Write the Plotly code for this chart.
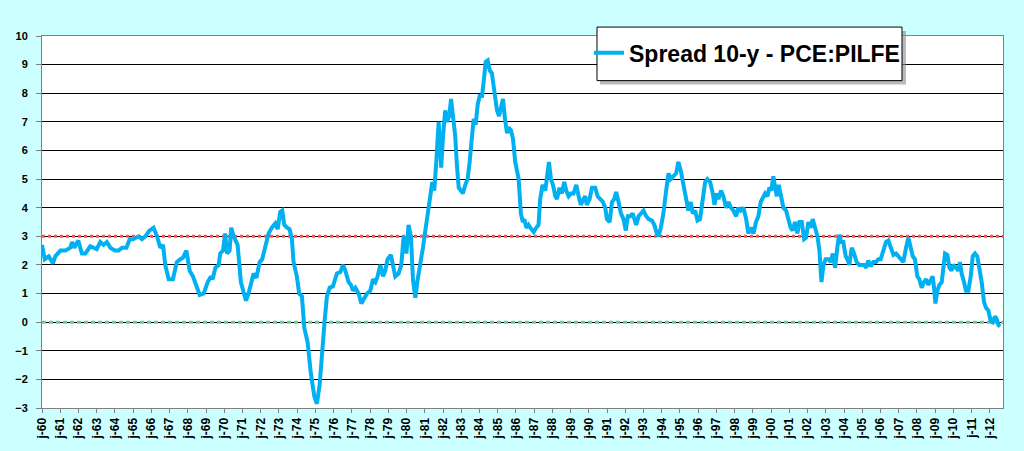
import plotly.graph_objects as go

# ---- data (decimal year, spread in %) ----
dates_60s = [1960.00, 1960.15, 1960.37, 1960.60, 1960.73, 1961.01, 1961.28, 1961.55, 1961.65, 1961.77,
             1961.99, 1962.19, 1962.38, 1962.65, 1962.83, 1963.00, 1963.20, 1963.38, 1963.56, 1963.75,
             1964.00, 1964.20, 1964.39, 1964.63, 1964.81, 1964.99, 1965.30, 1965.48, 1965.67, 1965.89,
             1966.12, 1966.31, 1966.49, 1966.64, 1966.76, 1966.95, 1967.18, 1967.40, 1967.59, 1967.73,
             1967.92, 1968.10, 1968.28, 1968.46, 1968.65, 1968.87, 1969.09, 1969.27, 1969.36, 1969.51,
             1969.69, 1969.78, 1969.93]
spread_60s = [2.7, 2.2, 2.3, 2.05, 2.3, 2.5, 2.5, 2.6, 2.8, 2.6,
              2.85, 2.4, 2.4, 2.65, 2.6, 2.55, 2.8, 2.7, 2.8, 2.6,
              2.5, 2.5, 2.6, 2.6, 2.9, 2.9, 3.0, 2.9, 3.0, 3.2,
              3.3, 3.0, 2.6, 2.7, 2.0, 1.5, 1.5, 2.1, 2.2, 2.25,
              2.5, 1.8, 1.6, 1.3, 0.95, 1.0, 1.4, 1.6, 1.5, 1.9,
              2.0, 2.4, 2.5]

dates_70s = [1970.05, 1970.15, 1970.29, 1970.38, 1970.51, 1970.73, 1970.91, 1971.06, 1971.19, 1971.33,
             1971.46, 1971.61, 1971.76, 1971.94, 1972.08, 1972.25, 1972.43, 1972.61, 1972.80, 1972.93,
             1973.07, 1973.18, 1973.29, 1973.44, 1973.58, 1973.71, 1973.80, 1973.98, 1974.11, 1974.26,
             1974.39, 1974.57, 1974.75, 1974.94, 1975.08, 1975.23, 1975.36, 1975.50, 1975.63, 1975.78,
             1975.96, 1976.18, 1976.37, 1976.51, 1976.64, 1976.82, 1976.95, 1977.06, 1977.19, 1977.37,
             1977.52, 1977.65, 1977.83, 1978.01, 1978.16, 1978.29, 1978.41, 1978.56, 1978.71, 1978.83,
             1978.96, 1979.14, 1979.25, 1979.38, 1979.56, 1979.71, 1979.84, 1979.99]
spread_70s = [3.1, 2.4, 2.5, 3.3, 3.0, 2.7, 1.4, 1.0, 0.75, 1.0,
              1.4, 1.7, 1.55, 2.1, 2.2, 2.7, 3.1, 3.3, 3.45, 3.25,
              3.85, 3.9, 3.4, 3.3, 3.25, 2.9, 2.1, 1.6, 1.0, 0.9,
              -0.2, -0.7, -1.8, -2.6, -2.85, -2.2, -1.0, 0.0, 0.9, 1.2,
              1.25, 1.7, 1.75, 2.0, 1.8, 1.4, 1.3, 1.1, 1.2, 1.0,
              0.65, 0.8, 1.0, 1.1, 1.5, 1.4, 1.6, 2.0, 1.6, 1.8,
              2.2, 2.35, 2.0, 1.6, 1.7, 2.0, 3.0, 2.4]

dates_80s = [1980.11, 1980.24, 1980.35, 1980.48, 1980.61, 1980.75, 1980.90, 1981.03, 1981.16, 1981.30,
             1981.41, 1981.52, 1981.63, 1981.76, 1981.85, 1981.90, 1982.00, 1982.12, 1982.22, 1982.34,
             1982.44, 1982.54, 1982.67, 1982.76, 1982.86, 1982.98, 1983.09, 1983.22, 1983.35, 1983.46,
             1983.59, 1983.68, 1983.79, 1983.90, 1984.01, 1984.14, 1984.23, 1984.34, 1984.45, 1984.56,
             1984.68, 1984.81, 1984.96, 1985.07, 1985.18, 1985.29, 1985.40, 1985.51, 1985.60, 1985.73,
             1985.84, 1985.96, 1986.15, 1986.27, 1986.38, 1986.46, 1986.57, 1986.69, 1986.79, 1986.97,
             1987.12, 1987.24, 1987.33, 1987.46, 1987.61, 1987.70, 1987.81, 1987.92, 1988.03, 1988.16,
             1988.25, 1988.39, 1988.52, 1988.65, 1988.76, 1988.89, 1989.02, 1989.16, 1989.31, 1989.44,
             1989.56, 1989.71, 1989.80, 1989.89]
spread_80s = [3.4, 3.0, 1.5, 0.85, 1.5, 2.0, 2.6, 3.2, 3.9, 4.4,
              4.9, 4.6, 5.6, 7.0, 6.0, 5.4, 6.5, 7.4, 7.0, 7.2,
              7.8, 7.3, 6.5, 5.5, 4.7, 4.6, 4.5, 4.8, 5.0, 5.6,
              6.5, 7.1, 6.9, 7.6, 7.9, 7.9, 8.4, 9.1, 9.15, 8.8,
              8.7, 8.0, 7.4, 7.2, 7.5, 7.8, 7.1, 6.6, 6.8, 6.7,
              6.4, 5.6, 5.0, 3.8, 3.5, 3.6, 3.3, 3.4, 3.3, 3.15,
              3.3, 3.4, 4.3, 4.8, 4.6, 5.0, 5.6, 5.0, 4.8, 4.4,
              4.3, 4.7, 4.5, 4.9, 4.6, 4.4, 4.5, 4.5, 4.8, 4.4,
              4.1, 4.3, 4.4, 4.1]

dates_90s = [1990.04, 1990.17, 1990.35, 1990.48, 1990.63, 1990.77, 1990.90, 1990.99, 1991.14, 1991.27,
             1991.39, 1991.50, 1991.63, 1991.76, 1991.90, 1992.03, 1992.14, 1992.27, 1992.40, 1992.51,
             1992.60, 1992.73, 1992.86, 1993.00, 1993.15, 1993.28, 1993.46, 1993.59, 1993.73, 1993.82,
             1993.95, 1994.09, 1994.24, 1994.37, 1994.49, 1994.64, 1994.79, 1994.91, 1995.04, 1995.19,
             1995.33, 1995.46, 1995.59, 1995.70, 1995.83, 1995.96, 1996.10, 1996.25, 1996.38, 1996.50,
             1996.65, 1996.80, 1996.89, 1997.02, 1997.11, 1997.25, 1997.38, 1997.53, 1997.66, 1997.80,
             1997.93, 1998.08, 1998.20, 1998.33, 1998.48, 1998.63, 1998.75, 1998.88, 1999.03, 1999.17,
             1999.30, 1999.43, 1999.58, 1999.67, 1999.80, 1999.90]
spread_90s = [4.3, 4.7, 4.7, 4.4, 4.3, 4.2, 4.0, 3.6, 3.5, 4.2,
              4.3, 4.55, 4.2, 3.8, 3.6, 3.2, 3.7, 3.7, 3.8, 3.5,
              3.4, 3.7, 3.8, 3.9, 3.7, 3.6, 3.55, 3.4, 3.1, 3.0,
              3.3, 3.8, 4.6, 5.2, 5.0, 5.1, 5.2, 5.6, 5.3, 4.8,
              4.4, 3.9, 4.2, 3.8, 3.9, 3.55, 3.6, 4.4, 4.9, 5.0,
              4.9, 4.5, 4.1, 4.5, 4.3, 4.6, 4.4, 4.0, 4.2, 4.0,
              3.9, 3.7, 4.0, 3.9, 4.0, 3.6, 3.1, 3.3, 3.1, 3.5,
              3.7, 4.2, 4.4, 4.5, 4.4, 4.7]

dates_00s = [2000.01, 2000.12, 2000.22, 2000.31, 2000.42, 2000.53, 2000.67, 2000.82, 2000.95, 2001.07,
             2001.18, 2001.31, 2001.44, 2001.55, 2001.68, 2001.81, 2001.92, 2002.04, 2002.17, 2002.28,
             2002.41, 2002.54, 2002.65, 2002.76, 2002.87, 2002.99, 2003.14, 2003.27, 2003.38, 2003.51,
             2003.63, 2003.73, 2003.85, 2003.96, 2004.09, 2004.18, 2004.29, 2004.42, 2004.55, 2004.69,
             2004.84, 2004.97, 2005.10, 2005.21, 2005.33, 2005.46, 2005.61, 2005.75, 2005.88, 2006.01,
             2006.16, 2006.30, 2006.43, 2006.56, 2006.71, 2006.85, 2006.98, 2007.11, 2007.25, 2007.40,
             2007.53, 2007.66, 2007.77, 2007.89, 2008.02, 2008.13, 2008.26, 2008.39, 2008.50, 2008.63,
             2008.75, 2008.86, 2008.94, 2009.01, 2009.12, 2009.23, 2009.36, 2009.45, 2009.54, 2009.67,
             2009.78, 2009.90]
spread_00s = [4.6, 5.1, 4.7, 4.4, 4.8, 4.5, 4.0, 3.9, 3.5, 3.3,
              3.2, 3.5, 3.1, 3.5, 3.5, 2.9, 2.95, 3.5, 3.3, 3.6,
              3.3, 3.0, 2.5, 1.4, 2.0, 2.2, 2.2, 2.1, 2.4, 1.9,
              2.6, 3.05, 2.8, 2.8, 2.3, 2.2, 2.0, 2.6, 2.4, 2.1,
              2.0, 2.0, 2.0, 1.9, 2.15, 1.95, 2.1, 2.1, 2.2, 2.2,
              2.5, 2.8, 2.85, 2.6, 2.35, 2.4, 2.3, 2.2, 2.1, 2.6,
              2.95, 2.6, 2.3, 2.2, 1.6, 1.5, 1.2, 1.4, 1.5, 1.3,
              1.5, 1.6, 1.2, 0.65, 1.1, 1.3, 1.4, 2.0, 2.4, 2.35,
              1.9, 1.8]

dates_10s = [2010.00, 2010.14, 2010.27, 2010.36, 2010.45, 2010.58, 2010.69, 2010.82, 2010.95, 2011.06,
             2011.18, 2011.31, 2011.42, 2011.55, 2011.68, 2011.79, 2011.92, 2012.04, 2012.15, 2012.28,
             2012.38, 2012.47, 2012.56]
spread_10s = [2.0, 1.9, 1.8, 2.1, 1.7, 1.4, 1.1, 1.1, 1.6, 2.3,
              2.4, 2.3, 1.9, 1.4, 0.7, 0.5, 0.4, 0.05, 0.0, 0.2,
              0.1, -0.1, -0.15]

tick_years = list(range(1960, 2013))
tick_labels = ["j-%02d" % (y % 100) for y in tick_years]
ref_levels = [3, 0]
ref_colors = ["#FF5050", "#66CC99"]
series_name = "Spread 10-y - PCE:PILFE"

dates = dates_60s + dates_70s + dates_80s + dates_90s + dates_00s + dates_10s
spread = spread_60s + spread_70s + spread_80s + spread_90s + spread_00s + spread_10s

x_range = [1960, 2012.72]

fig = go.Figure()
dashes = ["3px,3px", "4px,3px"]
widths = [3, 3]
for lvl, col, dsh, w in zip(ref_levels, ref_colors, dashes, widths):
    fig.add_trace(go.Scatter(x=x_range, y=[lvl, lvl], mode="lines", showlegend=False,
                             line=dict(color=col, width=w, dash=dsh), hoverinfo="skip"))
fig.add_trace(go.Scatter(x=dates, y=spread, mode="lines", name=series_name,
                         line=dict(color="#00B0F0", width=4)))

font_family = "Liberation Sans, Arial, sans-serif"

# legend box (shadow + white frame), legend itself drawn transparent on top
W, H = 1024, 451
ml, mr, mt, mb = 42, 21, 36, 40
pw, ph = W - ml - mr, H - mt - mb
def px(x):
    return (x - ml) / pw
def py(y):
    return (H - mb - y) / ph

fig.add_shape(type="rect", xref="paper", yref="paper",
              x0=px(600), x1=px(906), y0=py(85), y1=py(31),
              fillcolor="#8C8C8C", line=dict(width=0), layer="above", opacity=0.6)
fig.add_shape(type="rect", xref="paper", yref="paper",
              x0=px(597), x1=px(902), y0=py(81), y1=py(27),
              fillcolor="white", line=dict(color="black", width=1), layer="above")

fig.update_layout(
    width=W, height=H,
    margin=dict(l=ml, r=mr, t=mt, b=mb),
    paper_bgcolor="#CCFFFF",
    plot_bgcolor="white",
    font=dict(family=font_family, color="black"),
    showlegend=True,
    legend=dict(x=px(589), xanchor="left", y=py(53), yanchor="middle",
                bgcolor="rgba(0,0,0,0)", borderwidth=0,
                font=dict(size=23, family=font_family, color="black", weight="bold"),
                itemwidth=30),
    xaxis=dict(range=x_range, tickmode="array", tickvals=tick_years, ticktext=tick_labels,
               tickangle=-90, tickfont=dict(size=12, weight="bold"),
               ticks="outside", ticklen=4, tickcolor="#808080",
               showgrid=False, zeroline=False, showline=True, linecolor="#808080",
               linewidth=1, mirror=True),
    yaxis=dict(range=[-3, 10], dtick=1, tick0=0,
               tickfont=dict(size=11, weight="bold"),
               ticks="outside", ticklen=5, tickcolor="#808080",
               showgrid=True, gridcolor="#000000", gridwidth=1,
               zeroline=False, showline=True, linecolor="#808080", linewidth=1, mirror=True,
               ticklabelstandoff=6),
)

fig.write_html("out.html", config={"displayModeBar": False},
               post_script="document.body.style.margin='0';document.body.style.background='#CCFFFF';")
